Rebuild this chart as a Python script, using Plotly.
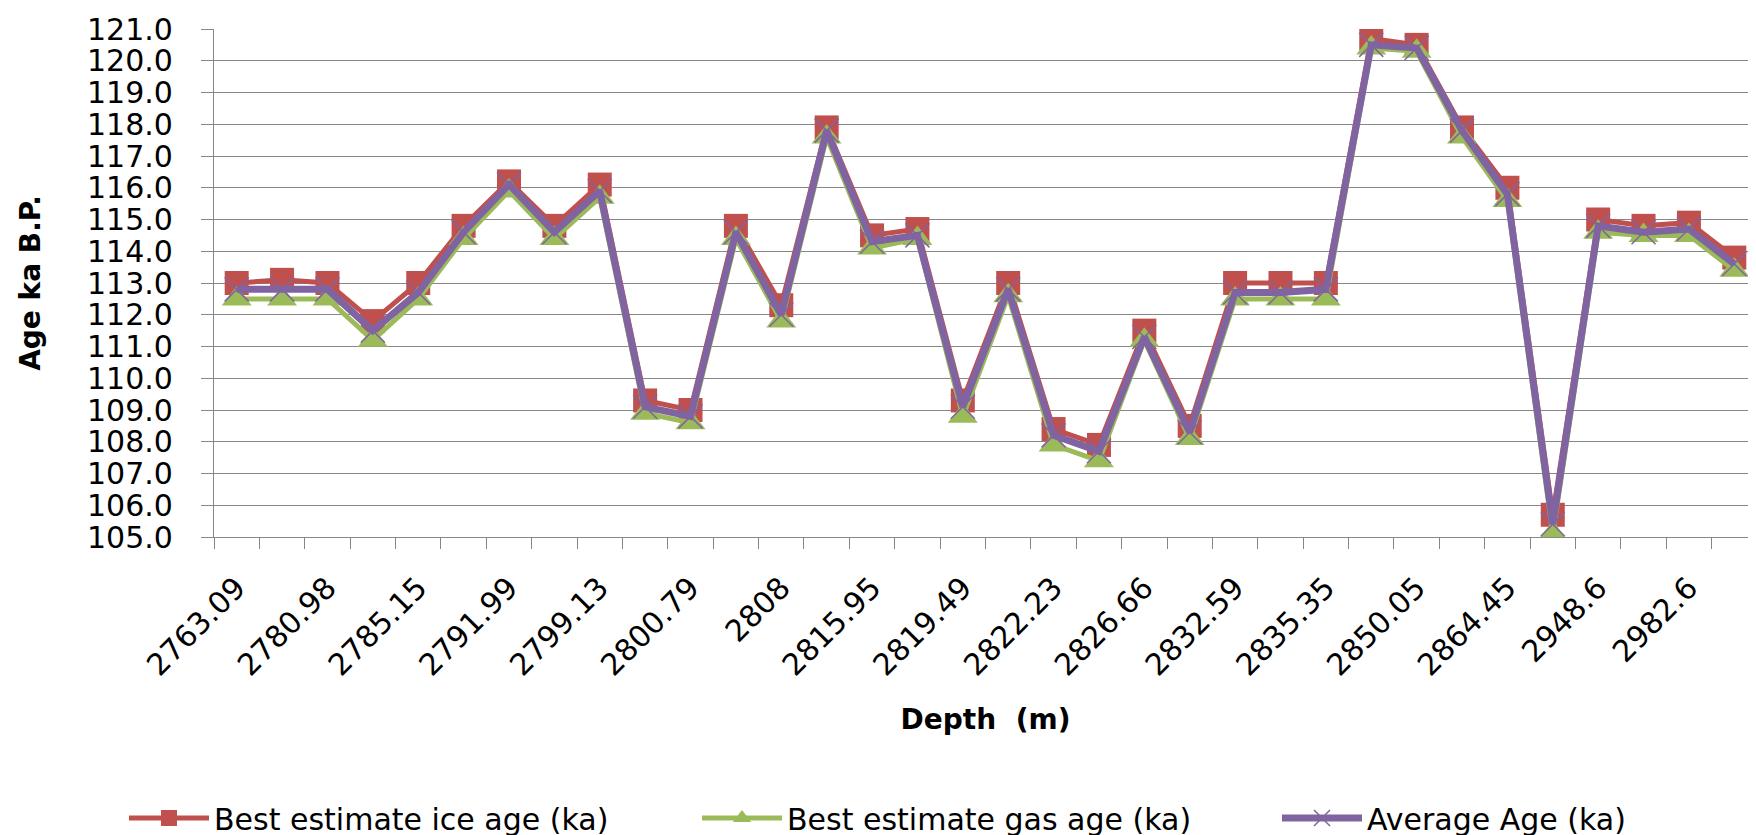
import plotly.graph_objects as go

# Depth categories (m): labelled ones are shown on the axis, the in-between ones are hidden (Excel skips every other label)
depth_labels = ["2763.09", "2780.98", "2785.15", "2791.99", "2799.13", "2800.79", "2808",
                "2815.95", "2819.49", "2822.23", "2826.66", "2832.59", "2835.35", "2850.05",
                "2864.45", "2948.6", "2982.6"]
hidden_depths = ["2772.0", "2783.1", "2788.6", "2795.6", "2800.0", "2804.4", "2812.0",
                 "2817.7", "2820.9", "2824.4", "2829.6", "2834.0", "2842.7", "2857.3",
                 "2906.5", "2965.6", "3000.0"]

depths = []
tick_text = []
for shown, hidden in zip(depth_labels, hidden_depths):
    depths += [shown, hidden]
    tick_text += [shown, ""]

ice_age = [113.0, 113.1, 113.0, 111.8, 113.0, 114.8, 116.2, 114.8, 116.1, 109.3,
           109.0, 114.8, 112.3, 117.9, 114.5, 114.7, 109.3, 113.0, 108.4, 107.9,
           111.5, 108.5, 113.0, 113.0, 113.0, 120.7, 120.5, 117.9, 116.0, 105.7,
           115.0, 114.8, 114.9, 113.8]
gas_age = [112.5, 112.5, 112.5, 111.2, 112.5, 114.4, 115.9, 114.4, 115.7, 108.9,
           108.6, 114.4, 111.8, 117.6, 114.1, 114.4, 108.8, 112.6, 107.9, 107.4,
           111.2, 108.1, 112.5, 112.5, 112.5, 120.4, 120.3, 117.6, 115.6, 105.1,
           114.6, 114.5, 114.5, 113.4]
avg_age = [112.8, 112.8, 112.8, 111.5, 112.7, 114.6, 116.1, 114.6, 115.9, 109.1,
           108.8, 114.6, 112.0, 117.8, 114.3, 114.5, 109.1, 112.8, 108.2, 107.7,
           111.3, 108.3, 112.7, 112.7, 112.8, 120.5, 120.4, 117.8, 115.8, 105.4,
           114.8, 114.6, 114.7, 113.6]

FONT = "DejaVu Sans"
GRID = "#878787"
W, H = 1756, 835

fig = go.Figure()
fig.add_trace(go.Scatter(
    x=depths, y=ice_age, name="Best estimate ice age (ka)", mode="lines+markers",
    line=dict(color="#C0504D", width=5), legend="legend",
    marker=dict(symbol="square", size=24, color="#C0504D")))
fig.add_trace(go.Scatter(
    x=depths, y=gas_age, name="Best estimate gas age (ka)", mode="lines+markers",
    line=dict(color="#9BBB59", width=5), legend="legend2",
    marker=dict(symbol="triangle-up", size=26, color="#9BBB59")))
fig.add_trace(go.Scatter(
    x=depths, y=avg_age, name="Average Age (ka)", mode="lines+markers",
    line=dict(color="#8064A2", width=7), legend="legend3",
    marker=dict(symbol="x-thin", size=24, color="#8064A2",
                line=dict(width=1.5, color="#8064A2"))))


def legend_at(left_px):
    return dict(orientation="h", xref="container", yref="container",
                x=left_px / W, xanchor="left", y=1 - 810 / H, yanchor="middle",
                font=dict(size=30), itemwidth=80, bgcolor="rgba(0,0,0,0)")


fig.update_layout(
    width=W, height=H,
    margin=dict(l=206, r=7, t=21, b=306, autoexpand=False),
    paper_bgcolor="white", plot_bgcolor="white",
    font=dict(family=FONT, size=30, color="black"),
    showlegend=True,
    legend=legend_at(116),
    legend2=legend_at(689),
    legend3=legend_at(1269),
)
fig.update_xaxes(
    type="category", range=[-0.5, len(depths) - 0.5], autorange=False,
    tickson="boundaries", tickmode="array",
    tickvals=depths, ticktext=tick_text, tickangle=-45,
    ticks="outside", ticklen=11, tickcolor=GRID, tickwidth=1.3,
    showline=True, linecolor=GRID, linewidth=1.3, showgrid=False,
    tickfont=dict(size=30), ticklabelstandoff=20, automargin=False,
    title=dict(text="<b>Depth  (m)</b>", font=dict(size=28), standoff=27),
)
fig.update_yaxes(
    range=[105, 121], dtick=1, tickformat=".1f",
    showgrid=True, gridcolor=GRID, gridwidth=1.3,
    ticks="outside", ticklen=12, tickcolor=GRID, tickwidth=1.3,
    showline=True, linecolor=GRID, linewidth=1.3, zeroline=False,
    tickfont=dict(size=30), ticklabelstandoff=22, automargin=False,
    title=dict(text="<b>Age ka B.P.</b>", font=dict(size=28), standoff=38),
)

fig.write_html("out.html")
